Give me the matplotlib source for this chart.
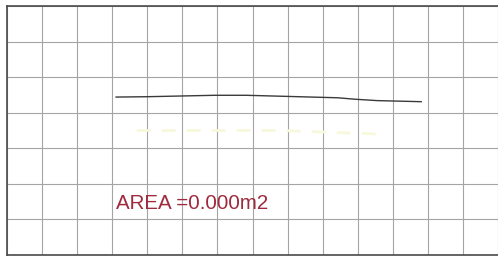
import matplotlib
matplotlib.use("Agg")
import matplotlib.pyplot as plt

# Grid in cell units (one cell ~35.4 px), y counted upward from bottom border.
n_cols = 14
n_rows = 7

# Profile line (cell units).
line_x = [3.11, 4.0, 5.93, 6.81, 7.94, 9.43, 9.91, 10.56, 11.81]
line_y = [4.44, 4.45, 4.49, 4.49, 4.46, 4.42, 4.38, 4.34, 4.31]

# Faint yellow trace seen in the scan.
yellow_x = [3.7, 7.8, 10.6]
yellow_y = [3.50, 3.50, 3.40]

label = "AREA =0.000m2"

fig = plt.figure(figsize=(4.98, 2.60), dpi=100)
ax = fig.add_axes([7 / 498, 5 / 260, 491 / 498, 249 / 260])
ax.set_xlim(0, 491 / 35.4)
ax.set_ylim(0, n_rows)

ax.set_xticks(range(n_cols + 1))
ax.set_yticks(range(n_rows + 1))
ax.grid(True, color="#a4a4a4", linewidth=0.8)
ax.tick_params(length=0, labelbottom=False, labelleft=False)
for side in ["left", "top", "bottom"]:
    ax.spines[side].set_color("#4a4a4a")
    ax.spines[side].set_linewidth(1.2)
ax.spines["right"].set_visible(False)

ax.plot(yellow_x, yellow_y, color="#f8f8dc", linewidth=2.0, linestyle=(0, (5, 4)))
ax.plot(line_x, line_y, color="#3a3a3a", linewidth=1.0)

ax.text(3.1, 1.28, label, color="#9e2a3c", fontsize=14.8,
        fontfamily="Liberation Sans", ha="left", va="baseline")

fig.savefig("out.png", dpi=100)
